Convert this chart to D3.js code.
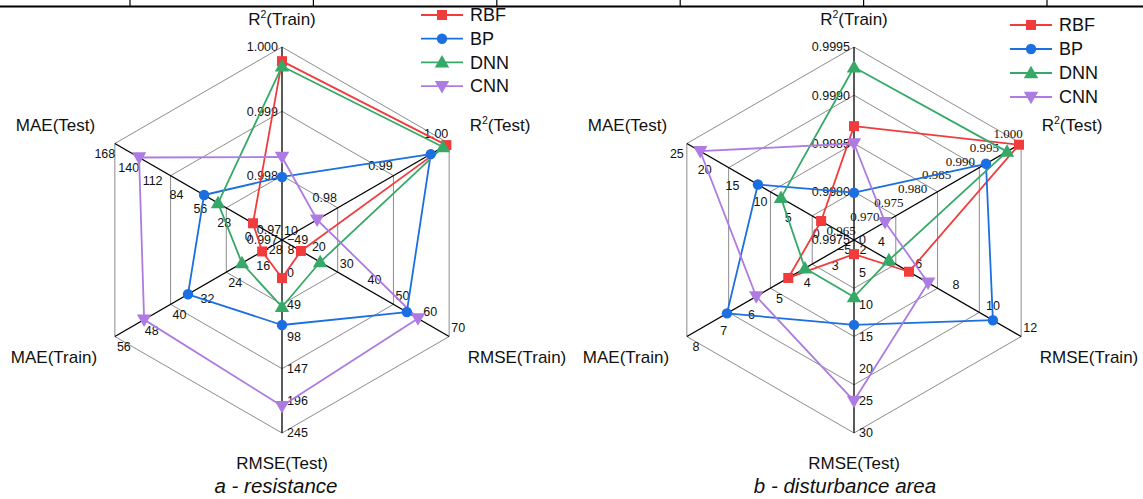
<!DOCTYPE html>
<html>
<head>
<meta charset="utf-8">
<script src="https://cdn.jsdelivr.net/npm/d3@7"></script>
<style>
  html, body { margin: 0; padding: 0; background: #fff; }
  svg { display: block; font-family: "Liberation Sans", Arial, sans-serif; }
</style>
</head>
<body>
<svg id="chart" width="1143" height="499"></svg>
<script>
// ---------- data ----------
const axisNames = ["R2(Train)", "R2(Test)", "RMSE(Train)", "RMSE(Test)", "MAE(Train)", "MAE(Test)"];
const seriesNames = ["RBF", "BP", "DNN", "CNN"];

// chart a - resistance
const aDomains = [[0.997, 1.000], [0.97, 1.00], [10, 70], [-49, 245], [8, 56], [-28, 168]];
const aTicks = [
  [0.997, 0.998, 0.999, 1.000],
  [0.97, 0.98, 0.99, 1.00],
  [10, 20, 30, 40, 50, 60, 70],
  [-49, 0, 49, 98, 147, 196, 245],
  [8, 16, 24, 32, 40, 48, 56],
  [-28, 0, 28, 56, 84, 112, 140, 168]
];
const aTickDecimals = [3, 2, 0, 0, 0, 0];
const aRBF = [0.99978, 0.9995, 16.8, 9, 13.7, 6];
const aBP  = [0.99798, 0.9967, 54.8, 80.5, 35, 63.4];
const aDNN = [0.9997, 0.9989, 23.7, 53, 19.5, 47];
const aCNN = [0.99829, 0.9763, 58.8, 204, 47.6, 139.6];

// chart b - disturbance area
const bDomains = [[0.9975, 0.9995], [0.965, 1.000], [3, 12], [0, 30], [2, 8], [-5, 25]];
const bTicks = [
  [0.9975, 0.9980, 0.9985, 0.9990, 0.9995],
  [0.965, 0.970, 0.975, 0.980, 0.985, 0.990, 0.995, 1.000],
  [4, 6, 8, 10, 12],
  [0, 5, 10, 15, 20, 25, 30],
  [2, 3, 4, 5, 6, 7, 8],
  [-5, 0, 5, 10, 15, 20, 25]
];
const bTickDecimals = [4, 3, 0, 0, 0, 0];
const bRBF = [0.99868, 0.99955, 5.96, 2.2, 4.36, 0.9];
const bBP  = [0.99799, 0.99264, 10.48, 13.2, 6.56, 12.25];
const bDNN = [0.99929, 0.99705, 4.88, 8.86, 3.76, 8.1];
const bCNN = [0.9985, 0.9715, 6.99, 25.0, 5.51, 22.6];

const captions = ["a - resistance", "b - disturbance area"];

// ---------- style ----------
const colors = ["#f03c3c", "#1c6fe0", "#36a968", "#ad7be2"];
const symbols = [d3.symbolSquare, d3.symbolCircle, d3.symbolTriangle, d3.symbolTriangle];
const symbolSizes = [100, 85, 90, 90];
const symbolRot = [0, 0, 0, 180];

const svg = d3.select("#chart");

// top table rule
const ruleX = d3.scaleLinear().domain([0, 5]).range([130, 1047]);
svg.append("line").attr("x1", 0).attr("x2", 1143).attr("y1", 6.5).attr("y2", 6.5)
  .attr("stroke", "#000").attr("stroke-width", 2);
svg.selectAll("line.rtick").data(d3.range(6)).join("line").attr("class", "rtick")
  .attr("x1", d => ruleX(d)).attr("x2", d => ruleX(d)).attr("y1", 0).attr("y2", 6)
  .attr("stroke", "#000").attr("stroke-width", 1.2);

function titleText(sel, name) {
  if (name.startsWith("R2")) {
    sel.append("tspan").text("R");
    sel.append("tspan").attr("dy", -7).attr("font-size", "0.62em").text("2");
    sel.append("tspan").attr("dy", 7).text(name.slice(2));
  } else sel.text(name);
}

function drawRadar(cfg) {
  const g = svg.append("g");
  const R = cfg.R, cx = cfg.cx, cy = cfg.cy;
  const angle = i => (-90 + 60 * i) * Math.PI / 180;
  const scales = cfg.domains.map(d => d3.scaleLinear().domain(d).range([0, R]));
  const pt = (i, r) => [cx + r * Math.cos(angle(i)), cy + r * Math.sin(angle(i))];

  // rings follow the first axis's major ticks
  const ringVals = cfg.ticks[0].slice(1);
  const line = d3.line();
  g.selectAll("path.ring").data(ringVals).join("path").attr("class", "ring")
    .attr("d", v => line(d3.range(6).map(i => pt(i, scales[0](v)))) + "Z")
    .attr("fill", "none").attr("stroke", "#8c8c8c").attr("stroke-width", 1);

  // spokes
  g.selectAll("line.spoke").data(d3.range(6)).join("line").attr("class", "spoke")
    .attr("x1", cx).attr("y1", cy)
    .attr("x2", i => pt(i, R)[0]).attr("y2", i => pt(i, R)[1])
    .attr("stroke", "#000").attr("stroke-width", 1.3);

  // tick labels
  const offs = [[-4, 0, "end"], [-13, -10, "middle"], [9, -9, "middle"], [5, 0, "start"], [9, 10, "middle"], [-10, 10, "middle"]];
  cfg.ticks.forEach((tv, i) => {
    const o = offs[i];
    g.selectAll("text.t" + i).data(tv).join("text").attr("class", "t" + i)
      .attr("x", v => pt(i, scales[i](v))[0] + o[0])
      .attr("y", v => pt(i, scales[i](v))[1] + o[1])
      .attr("dy", "0.35em")
      .attr("text-anchor", o[2])
      .attr("font-size", cfg.serifAxis === i ? 13 : 12.5)
      .attr("font-family", cfg.serifAxis === i ? "'Liberation Serif', 'Times New Roman', serif" : null)
      .attr("fill", "#111")
      .text(v => d3.format("." + cfg.decimals[i] + "f")(v));
  });

  // series
  cfg.series.forEach((vals, s) => {
    const pts = vals.map((v, i) => pt(i, scales[i](v)));
    g.append("path").attr("d", line(pts) + "Z")
      .attr("fill", "none").attr("stroke", colors[s]).attr("stroke-width", 1.8)
      .attr("stroke-linejoin", "round");
  });
  cfg.series.forEach((vals, s) => {
    const pts = vals.map((v, i) => pt(i, scales[i](v)));
    g.selectAll("path.m" + s).data(pts).join("path").attr("class", "m" + s)
      .attr("d", d3.symbol().type(symbols[s]).size(symbolSizes[s]))
      .attr("transform", p => `translate(${p[0]},${p[1] + (s === 2 ? 1 : s === 3 ? -1 : 0)}) rotate(${symbolRot[s]})`)
      .attr("fill", colors[s]);
  });

  // axis titles
  const tpos = [[0, -215, "middle"], [218, -109, "middle"], [235, 123, "middle"],
                [0, 229, "middle"], [-228, 123, "middle"], [-226.5, -109, "middle"]];
  axisNames.forEach((n, i) => {
    const t = g.append("text").attr("x", cx + tpos[i][0]).attr("y", cy + tpos[i][1])
      .attr("text-anchor", tpos[i][2]).attr("font-size", 17).attr("fill", "#111");
    titleText(t, n);
  });

  // caption
  g.append("text").attr("x", cfg.capX).attr("y", 493).attr("text-anchor", "middle")
    .attr("font-size", 20.5).attr("font-style", "italic").attr("fill", "#111").text(cfg.caption);

  // legend
  const lg = g.append("g").attr("transform", `translate(${cfg.legX},${cfg.legY})`);
  seriesNames.forEach((n, s) => {
    const y = s * cfg.legGap;
    lg.append("line").attr("x1", 0).attr("x2", 42).attr("y1", y).attr("y2", y)
      .attr("stroke", colors[s]).attr("stroke-width", 1.8);
    lg.append("path").attr("d", d3.symbol().type(symbols[s]).size(symbolSizes[s]))
      .attr("transform", `translate(21,${y + (s === 2 ? 1 : s === 3 ? -1 : 0)}) rotate(${symbolRot[s]})`)
      .attr("fill", colors[s]);
    lg.append("text").attr("x", 49).attr("y", y).attr("dy", "0.35em")
      .attr("font-size", 18).attr("fill", "#111").text(n);
  });
}

drawRadar({
  cx: 282, cy: 240, R: 193,
  domains: aDomains, ticks: aTicks, decimals: aTickDecimals,
  series: [aRBF, aBP, aDNN, aCNN],
  caption: captions[0], capX: 276,
  legX: 421, legY: 15, legGap: 23.7, serifAxis: -1
});
drawRadar({
  cx: 854, cy: 240, R: 193,
  domains: bDomains, ticks: bTicks, decimals: bTickDecimals,
  series: [bRBF, bBP, bDNN, bCNN],
  caption: captions[1], capX: 845,
  legX: 1010, legY: 25, legGap: 24, serifAxis: 1
});
</script>
</body>
</html>
